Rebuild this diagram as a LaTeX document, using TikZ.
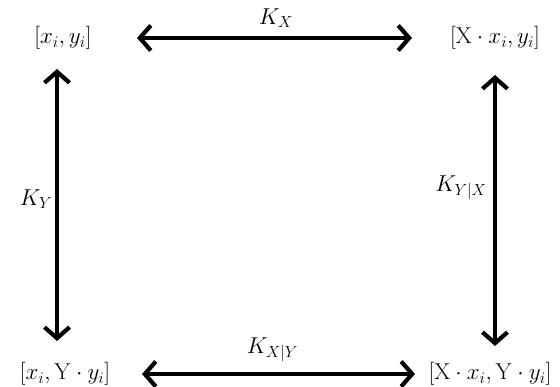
\RequirePackage{fix-cm}
\documentclass[tikz,border=0pt]{standalone}
\usepackage{amsmath}
\usetikzlibrary{positioning,arrows.meta}

\begin{document}
\begin{tikzpicture}[
    x=1pt, y=1pt,
    font=\fontsize{23}{27}\selectfont,
    >={Straight Barb[length=11pt,width=25pt]},
    state/.style={inner sep=2pt},
    klabel/.style={inner sep=1pt, font=\fontsize{23}{27}\selectfont},
    bigarrow/.style={<->, line width=4.2pt, draw=black}
]
    \useasboundingbox (0,0) rectangle (560,387);

    \node[state] (tl) at (63,349) {$[x_i,y_i]$};
    \node[state] (tr) at (495,349) {$[\mathrm{X}\cdot x_i,y_i]$};
    \node[state] (bl) at (65,13) {$[x_i,\mathrm{Y}\cdot y_i]$};
    \node[state] (br) at (490,13) {$[\mathrm{X}\cdot x_i,\mathrm{Y}\cdot y_i]$};

    \draw[bigarrow, shorten <=74pt, shorten >=83pt] (tl.center) -- (tr.center)
        node[klabel, midway, xshift=-3pt, yshift=20pt] {$K_X$};
    \draw[bigarrow, shorten <=77pt, shorten >=75pt] (bl.center) -- (br.center)
        node[klabel, midway, xshift=-5pt, yshift=24pt] {$K_{X|Y}$};
    \draw[bigarrow, shorten <=31pt, shorten >=33pt] ([xshift=-6pt]tl.center) -- ([xshift=-8pt]bl.center)
        node[klabel, midway, xshift=-21pt, yshift=7pt] {$K_Y$};
    \draw[bigarrow, shorten <=37pt, shorten >=28pt] (tr.center) -- ([xshift=5pt]br.center)
        node[klabel, midway, xshift=-34pt, yshift=18pt] {$K_{Y|X}$};

\end{tikzpicture}
\end{document}
